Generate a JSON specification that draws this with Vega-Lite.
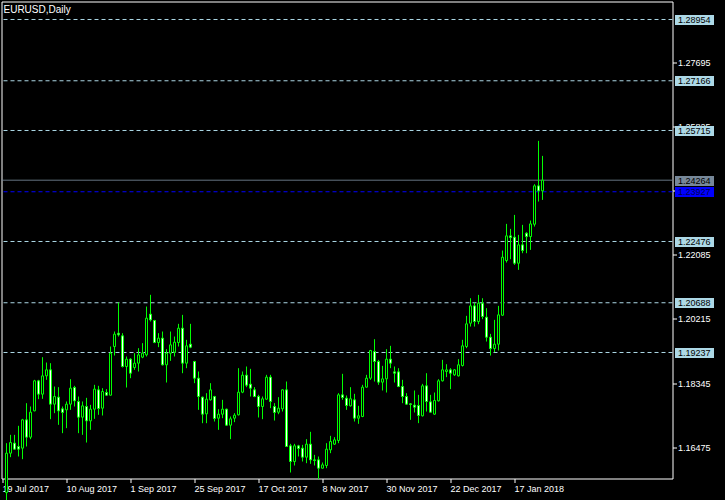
{
  "$schema": "https://vega.github.io/schema/vega-lite/v6.json",
  "width": 671,
  "height": 477,
  "autosize": {"type": "none"},
  "padding": {"left": 1.5, "top": 1.5, "right": 52.5, "bottom": 21.5},
  "background": "#000000",
  "title": {"text": "EURUSD,Daily", "anchor": "start", "frame": "group", "orient": "top", "offset": 0, "color": "#ffffff", "font": "Liberation Sans", "fontSize": 10, "fontWeight": "normal", "baseline": "top", "dx": 2, "dy": 13.5},
  "datasets": {
    "slots": [
      {"date": "2017-07-19"},
      {"date": "2018-01-29"}, {"date": "2018-01-30"}, {"date": "2018-01-31"}, {"date": "2018-02-01"}, {"date": "2018-02-02"},
      {"date": "2018-02-05"}, {"date": "2018-02-06"}, {"date": "2018-02-07"}, {"date": "2018-02-08"}, {"date": "2018-02-09"},
      {"date": "2018-02-12"}, {"date": "2018-02-13"}, {"date": "2018-02-14"}, {"date": "2018-02-15"}, {"date": "2018-02-16"},
      {"date": "2018-02-19"}, {"date": "2018-02-20"}, {"date": "2018-02-21"}, {"date": "2018-02-22"}, {"date": "2018-02-23"},
      {"date": "2018-02-26"}, {"date": "2018-02-27"}, {"date": "2018-02-28"}, {"date": "2018-03-01"}, {"date": "2018-03-02"},
      {"date": "2018-03-05"}, {"date": "2018-03-06"}, {"date": "2018-03-07"}, {"date": "2018-03-08"}, {"date": "2018-03-09"},
      {"date": "2018-03-12"}, {"date": "2018-03-13"}
    ],
    "levels": [
      {"price": 1.28954, "kind": "level"},
      {"price": 1.27166, "kind": "level"},
      {"price": 1.25715, "kind": "level"},
      {"price": 1.24264, "kind": "bid"},
      {"price": 1.23927, "kind": "ask"},
      {"price": 1.22476, "kind": "level"},
      {"price": 1.20688, "kind": "level"},
      {"price": 1.19237, "kind": "level"}
    ],
    "candles": [
      {"date": "2017-07-20", "open": 1.15150, "high": 1.16591, "low": 1.14800, "close": 1.16299},
      {"date": "2017-07-21", "open": 1.16299, "high": 1.16834, "low": 1.16182, "close": 1.16610},
      {"date": "2017-07-24", "open": 1.16591, "high": 1.16834, "low": 1.16396, "close": 1.16416},
      {"date": "2017-07-25", "open": 1.16494, "high": 1.17097, "low": 1.16202, "close": 1.16416},
      {"date": "2017-07-26", "open": 1.16445, "high": 1.17300, "low": 1.16124, "close": 1.17272},
      {"date": "2017-07-27", "open": 1.17272, "high": 1.17758, "low": 1.16494, "close": 1.16766},
      {"date": "2017-07-28", "open": 1.16766, "high": 1.17661, "low": 1.16708, "close": 1.17495},
      {"date": "2017-07-31", "open": 1.17534, "high": 1.18439, "low": 1.17520, "close": 1.18410},
      {"date": "2017-08-01", "open": 1.18410, "high": 1.18439, "low": 1.17875, "close": 1.18021},
      {"date": "2017-08-02", "open": 1.18021, "high": 1.19100, "low": 1.17885, "close": 1.18555},
      {"date": "2017-08-03", "open": 1.18555, "high": 1.18944, "low": 1.18439, "close": 1.18731},
      {"date": "2017-08-04", "open": 1.18731, "high": 1.18925, "low": 1.17291, "close": 1.17729},
      {"date": "2017-08-07", "open": 1.17729, "high": 1.18244, "low": 1.17466, "close": 1.17952},
      {"date": "2017-08-08", "open": 1.17933, "high": 1.18225, "low": 1.17126, "close": 1.17534},
      {"date": "2017-08-09", "open": 1.17593, "high": 1.17661, "low": 1.16883, "close": 1.17486},
      {"date": "2017-08-10", "open": 1.17563, "high": 1.17807, "low": 1.17029, "close": 1.17729},
      {"date": "2017-08-11", "open": 1.17729, "high": 1.18458, "low": 1.17563, "close": 1.18196},
      {"date": "2017-08-14", "open": 1.18215, "high": 1.18264, "low": 1.17661, "close": 1.17826},
      {"date": "2017-08-15", "open": 1.17807, "high": 1.17952, "low": 1.16883, "close": 1.17350},
      {"date": "2017-08-16", "open": 1.17350, "high": 1.17807, "low": 1.16834, "close": 1.17680},
      {"date": "2017-08-17", "open": 1.17661, "high": 1.17914, "low": 1.16610, "close": 1.17242},
      {"date": "2017-08-18", "open": 1.17242, "high": 1.17709, "low": 1.16980, "close": 1.17583},
      {"date": "2017-08-21", "open": 1.17583, "high": 1.18293, "low": 1.17301, "close": 1.18167},
      {"date": "2017-08-22", "open": 1.18147, "high": 1.18264, "low": 1.17418, "close": 1.17602},
      {"date": "2017-08-23", "open": 1.17612, "high": 1.18196, "low": 1.17398, "close": 1.18098},
      {"date": "2017-08-24", "open": 1.18069, "high": 1.18167, "low": 1.17972, "close": 1.17991},
      {"date": "2017-08-25", "open": 1.17991, "high": 1.19411, "low": 1.17982, "close": 1.19217},
      {"date": "2017-08-28", "open": 1.19411, "high": 1.19849, "low": 1.19149, "close": 1.19771},
      {"date": "2017-08-29", "open": 1.19800, "high": 1.20695, "low": 1.19703, "close": 1.19752},
      {"date": "2017-08-30", "open": 1.19723, "high": 1.19800, "low": 1.18800, "close": 1.18828},
      {"date": "2017-08-31", "open": 1.18828, "high": 1.19120, "low": 1.18215, "close": 1.19042},
      {"date": "2017-09-01", "open": 1.19042, "high": 1.19071, "low": 1.18487, "close": 1.18633},
      {"date": "2017-09-04", "open": 1.18799, "high": 1.19217, "low": 1.18731, "close": 1.18925},
      {"date": "2017-09-05", "open": 1.18925, "high": 1.19363, "low": 1.18682, "close": 1.19168},
      {"date": "2017-09-06", "open": 1.19100, "high": 1.19509, "low": 1.19071, "close": 1.19217},
      {"date": "2017-09-07", "open": 1.19168, "high": 1.20578, "low": 1.19120, "close": 1.20238},
      {"date": "2017-09-08", "open": 1.20355, "high": 1.20920, "low": 1.20141, "close": 1.20189},
      {"date": "2017-09-11", "open": 1.20170, "high": 1.20189, "low": 1.19509, "close": 1.19528},
      {"date": "2017-09-12", "open": 1.19528, "high": 1.19800, "low": 1.19392, "close": 1.19655},
      {"date": "2017-09-13", "open": 1.19655, "high": 1.19849, "low": 1.18857, "close": 1.18877},
      {"date": "2017-09-14", "open": 1.18877, "high": 1.19334, "low": 1.18361, "close": 1.19217},
      {"date": "2017-09-15", "open": 1.19217, "high": 1.19849, "low": 1.18993, "close": 1.19460},
      {"date": "2017-09-18", "open": 1.19246, "high": 1.19703, "low": 1.19120, "close": 1.19538},
      {"date": "2017-09-19", "open": 1.19528, "high": 1.20073, "low": 1.19411, "close": 1.19946},
      {"date": "2017-09-20", "open": 1.19946, "high": 1.20335, "low": 1.18633, "close": 1.18925},
      {"date": "2017-09-21", "open": 1.18925, "high": 1.19606, "low": 1.18779, "close": 1.19431},
      {"date": "2017-09-22", "open": 1.19479, "high": 1.20073, "low": 1.19363, "close": 1.19392},
      {"date": "2017-09-25", "open": 1.18974, "high": 1.18993, "low": 1.18342, "close": 1.18487},
      {"date": "2017-09-26", "open": 1.18487, "high": 1.18682, "low": 1.17563, "close": 1.17952},
      {"date": "2017-09-27", "open": 1.17933, "high": 1.17952, "low": 1.17174, "close": 1.17437},
      {"date": "2017-09-28", "open": 1.17447, "high": 1.18050, "low": 1.17174, "close": 1.17875},
      {"date": "2017-09-29", "open": 1.17855, "high": 1.18342, "low": 1.17836, "close": 1.18147},
      {"date": "2017-10-02", "open": 1.17952, "high": 1.17972, "low": 1.17223, "close": 1.17311},
      {"date": "2017-10-03", "open": 1.17320, "high": 1.17583, "low": 1.16980, "close": 1.17437},
      {"date": "2017-10-04", "open": 1.17437, "high": 1.17855, "low": 1.17320, "close": 1.17583},
      {"date": "2017-10-05", "open": 1.17583, "high": 1.17600, "low": 1.17097, "close": 1.17116},
      {"date": "2017-10-06", "open": 1.17116, "high": 1.17369, "low": 1.16708, "close": 1.17301},
      {"date": "2017-10-09", "open": 1.17320, "high": 1.17466, "low": 1.17204, "close": 1.17408},
      {"date": "2017-10-10", "open": 1.17418, "high": 1.18779, "low": 1.17400, "close": 1.18079},
      {"date": "2017-10-11", "open": 1.18079, "high": 1.18682, "low": 1.18050, "close": 1.18575},
      {"date": "2017-10-12", "open": 1.18575, "high": 1.18828, "low": 1.18225, "close": 1.18283},
      {"date": "2017-10-13", "open": 1.18312, "high": 1.18760, "low": 1.17952, "close": 1.18196},
      {"date": "2017-10-16", "open": 1.18147, "high": 1.18225, "low": 1.17933, "close": 1.17952},
      {"date": "2017-10-17", "open": 1.17952, "high": 1.18001, "low": 1.17340, "close": 1.17661},
      {"date": "2017-10-18", "open": 1.17661, "high": 1.17952, "low": 1.17291, "close": 1.17885},
      {"date": "2017-10-19", "open": 1.17875, "high": 1.18585, "low": 1.17855, "close": 1.18517},
      {"date": "2017-10-20", "open": 1.18517, "high": 1.18585, "low": 1.17612, "close": 1.17807},
      {"date": "2017-10-23", "open": 1.17661, "high": 1.17758, "low": 1.17252, "close": 1.17486},
      {"date": "2017-10-24", "open": 1.17495, "high": 1.17933, "low": 1.17437, "close": 1.17612},
      {"date": "2017-10-25", "open": 1.17593, "high": 1.18167, "low": 1.17515, "close": 1.18147},
      {"date": "2017-10-26", "open": 1.18147, "high": 1.18390, "low": 1.16480, "close": 1.16494},
      {"date": "2017-10-27", "open": 1.16513, "high": 1.16571, "low": 1.15735, "close": 1.16056},
      {"date": "2017-10-30", "open": 1.16056, "high": 1.16571, "low": 1.15939, "close": 1.16513},
      {"date": "2017-10-31", "open": 1.16513, "high": 1.16542, "low": 1.16202, "close": 1.16435},
      {"date": "2017-11-01", "open": 1.16445, "high": 1.16542, "low": 1.16056, "close": 1.16182},
      {"date": "2017-11-02", "open": 1.16182, "high": 1.16708, "low": 1.16007, "close": 1.16562},
      {"date": "2017-11-03", "open": 1.16562, "high": 1.16922, "low": 1.15988, "close": 1.16104},
      {"date": "2017-11-06", "open": 1.16104, "high": 1.16250, "low": 1.15939, "close": 1.16085},
      {"date": "2017-11-07", "open": 1.16104, "high": 1.16202, "low": 1.15540, "close": 1.15861},
      {"date": "2017-11-08", "open": 1.15861, "high": 1.16027, "low": 1.15850, "close": 1.15958},
      {"date": "2017-11-09", "open": 1.15939, "high": 1.16591, "low": 1.15861, "close": 1.16416},
      {"date": "2017-11-10", "open": 1.16396, "high": 1.16805, "low": 1.16299, "close": 1.16640},
      {"date": "2017-11-13", "open": 1.16562, "high": 1.16766, "low": 1.16542, "close": 1.16688},
      {"date": "2017-11-14", "open": 1.16669, "high": 1.18050, "low": 1.16591, "close": 1.18001},
      {"date": "2017-11-15", "open": 1.18001, "high": 1.18614, "low": 1.17855, "close": 1.17923},
      {"date": "2017-11-16", "open": 1.17904, "high": 1.17982, "low": 1.17563, "close": 1.17690},
      {"date": "2017-11-17", "open": 1.17680, "high": 1.18225, "low": 1.17661, "close": 1.17885},
      {"date": "2017-11-20", "open": 1.17855, "high": 1.18031, "low": 1.17223, "close": 1.17320},
      {"date": "2017-11-21", "open": 1.17320, "high": 1.17680, "low": 1.17155, "close": 1.17389},
      {"date": "2017-11-22", "open": 1.17369, "high": 1.18293, "low": 1.17350, "close": 1.18225},
      {"date": "2017-11-23", "open": 1.18225, "high": 1.18585, "low": 1.18215, "close": 1.18487},
      {"date": "2017-11-24", "open": 1.18487, "high": 1.19314, "low": 1.18439, "close": 1.19295},
      {"date": "2017-11-27", "open": 1.19265, "high": 1.19625, "low": 1.18390, "close": 1.18974},
      {"date": "2017-11-28", "open": 1.18974, "high": 1.19022, "low": 1.18293, "close": 1.18371},
      {"date": "2017-11-29", "open": 1.18371, "high": 1.18847, "low": 1.18128, "close": 1.18468},
      {"date": "2017-11-30", "open": 1.18468, "high": 1.19334, "low": 1.18069, "close": 1.19042},
      {"date": "2017-12-01", "open": 1.19042, "high": 1.19431, "low": 1.18779, "close": 1.18925},
      {"date": "2017-12-04", "open": 1.18672, "high": 1.18828, "low": 1.18361, "close": 1.18633},
      {"date": "2017-12-05", "open": 1.18672, "high": 1.18779, "low": 1.18225, "close": 1.18244},
      {"date": "2017-12-06", "open": 1.18244, "high": 1.18439, "low": 1.17758, "close": 1.17952},
      {"date": "2017-12-07", "open": 1.17952, "high": 1.18050, "low": 1.17709, "close": 1.17729},
      {"date": "2017-12-08", "open": 1.17739, "high": 1.17758, "low": 1.17272, "close": 1.17719},
      {"date": "2017-12-11", "open": 1.17700, "high": 1.18128, "low": 1.17486, "close": 1.17641},
      {"date": "2017-12-12", "open": 1.17690, "high": 1.18001, "low": 1.17175, "close": 1.17398},
      {"date": "2017-12-13", "open": 1.17389, "high": 1.18322, "low": 1.17370, "close": 1.18264},
      {"date": "2017-12-14", "open": 1.18264, "high": 1.18633, "low": 1.17515, "close": 1.17807},
      {"date": "2017-12-15", "open": 1.17797, "high": 1.18001, "low": 1.17486, "close": 1.17495},
      {"date": "2017-12-18", "open": 1.17437, "high": 1.18069, "low": 1.17418, "close": 1.17836},
      {"date": "2017-12-19", "open": 1.17826, "high": 1.18458, "low": 1.17807, "close": 1.18410},
      {"date": "2017-12-20", "open": 1.18410, "high": 1.19022, "low": 1.18390, "close": 1.18731},
      {"date": "2017-12-21", "open": 1.18682, "high": 1.18895, "low": 1.18517, "close": 1.18731},
      {"date": "2017-12-22", "open": 1.18731, "high": 1.18779, "low": 1.18167, "close": 1.18633},
      {"date": "2017-12-26", "open": 1.18585, "high": 1.18750, "low": 1.18555, "close": 1.18731},
      {"date": "2017-12-27", "open": 1.18555, "high": 1.19042, "low": 1.18536, "close": 1.18877},
      {"date": "2017-12-28", "open": 1.18857, "high": 1.19606, "low": 1.18828, "close": 1.19431},
      {"date": "2017-12-29", "open": 1.19411, "high": 1.20306, "low": 1.19363, "close": 1.20073},
      {"date": "2018-01-02", "open": 1.20092, "high": 1.20821, "low": 1.19994, "close": 1.20597},
      {"date": "2018-01-03", "open": 1.20597, "high": 1.20694, "low": 1.19994, "close": 1.20140},
      {"date": "2018-01-04", "open": 1.20140, "high": 1.20918, "low": 1.20063, "close": 1.20675},
      {"date": "2018-01-05", "open": 1.20675, "high": 1.20821, "low": 1.20209, "close": 1.20286},
      {"date": "2018-01-08", "open": 1.20267, "high": 1.20529, "low": 1.19557, "close": 1.19683},
      {"date": "2018-01-09", "open": 1.19683, "high": 1.19780, "low": 1.19148, "close": 1.19352},
      {"date": "2018-01-10", "open": 1.19352, "high": 1.20189, "low": 1.19246, "close": 1.19479},
      {"date": "2018-01-11", "open": 1.19479, "high": 1.20597, "low": 1.19294, "close": 1.20335},
      {"date": "2018-01-12", "open": 1.20325, "high": 1.22212, "low": 1.20306, "close": 1.22017},
      {"date": "2018-01-15", "open": 1.21920, "high": 1.22990, "low": 1.21862, "close": 1.22640},
      {"date": "2018-01-16", "open": 1.22640, "high": 1.22844, "low": 1.21959, "close": 1.22591},
      {"date": "2018-01-17", "open": 1.22601, "high": 1.23252, "low": 1.21794, "close": 1.21842},
      {"date": "2018-01-18", "open": 1.21842, "high": 1.22669, "low": 1.21648, "close": 1.22377},
      {"date": "2018-01-19", "open": 1.22377, "high": 1.22961, "low": 1.22134, "close": 1.22212},
      {"date": "2018-01-22", "open": 1.22717, "high": 1.22747, "low": 1.22134, "close": 1.22620},
      {"date": "2018-01-23", "open": 1.22620, "high": 1.23087, "low": 1.22231, "close": 1.22990},
      {"date": "2018-01-24", "open": 1.22980, "high": 1.24147, "low": 1.22912, "close": 1.24099},
      {"date": "2018-01-25", "open": 1.24099, "high": 1.25412, "low": 1.23642, "close": 1.23953},
      {"date": "2018-01-26", "open": 1.23953, "high": 1.24974, "low": 1.23690, "close": 1.24264}
    ]
  },
  "layer": [
    {
      "data": {"name": "levels"},
      "mark": {"type": "rule", "strokeWidth": 1},
      "encoding": {
        "y": {
          "field": "price", "type": "quantitative",
          "scale": {"domain": [1.1556, 1.29479], "nice": false, "zero": false},
          "axis": {
            "orient": "right", "title": null, "domain": false, "grid": false,
            "values": [1.28954, 1.27166, 1.25715, 1.24264, 1.23927, 1.22476, 1.20688, 1.19237],
            "format": ".5f", "offset": 2, "tickSize": 39, "tickWidth": 10,
            "tickColor": {"condition": [{"test": "abs(datum.value - 1.24264) < 0.00001", "value": "#778899"}, {"test": "abs(datum.value - 1.23927) < 0.00001", "value": "#0000ff"}], "value": "#add8e6"},
            "labelColor": {"condition": {"test": "abs(datum.value - 1.23927) < 0.00001", "value": "#000050"}, "value": "#000000"},
            "labelFont": "Liberation Sans", "labelFontSize": 9, "labelPadding": -36,
            "labelAlign": "left", "labelBaseline": "middle", "labelOverlap": false,
            "labelFlush": false, "labelBound": false, "zindex": 1
          }
        },
        "color": {"field": "kind", "type": "nominal", "legend": null,
          "scale": {"domain": ["level", "bid", "ask"], "range": ["#add8e6", "#778899", "#0000ff"]}},
        "strokeDash": {"field": "kind", "type": "nominal", "legend": null,
          "scale": {"domain": ["level", "bid", "ask"], "range": [[4, 3], [1, 0], [4, 3]]}}
      }
    },
    {
      "encoding": {
        "x": {
          "field": "date", "type": "ordinal",
          "scale": {"type": "band", "paddingInner": 0.5, "paddingOuter": 0.125, "align": 0, "round": false},
          "axis": {
            "title": null, "domain": false, "grid": false,
            "values": ["2017-07-19", "2017-08-10", "2017-09-01", "2017-09-25", "2017-10-17", "2017-11-08", "2017-11-30", "2017-12-22", "2018-01-17"],
            "labelExpr": "utcFormat(toDate(datum.value), '%-d %b %Y')",
            "tickColor": "#ffffff", "tickSize": 4, "tickWidth": 1,
            "labelColor": "#ffffff", "labelFont": "Liberation Sans", "labelFontSize": 9,
            "labelAlign": "left", "labelBaseline": "top", "labelPadding": 2, "labelAngle": 0,
            "labelOverlap": false, "labelFlush": false, "labelBound": false
          }
        }
      },
      "layer": [
        {
          "data": {"name": "slots"},
          "mark": {"type": "tick", "opacity": 0}
        },
        {
          "data": {"name": "candles"},
          "mark": {"type": "rule", "color": "#00ff00", "strokeWidth": 1},
          "encoding": {
            "y": {
              "field": "low", "type": "quantitative",
              "scale": {"domain": [1.1556, 1.29479], "nice": false, "zero": false},
              "axis": {
                "orient": "right", "title": null, "domain": false, "grid": false,
                "values": [1.16475, 1.1741, 1.18345, 1.1928, 1.20215, 1.2115, 1.22085, 1.2302, 1.23955, 1.2489, 1.25825, 1.2676, 1.27695, 1.2863],
                "format": ".5f", "tickColor": "#ffffff", "tickSize": 4, "tickWidth": 1,
                "labelColor": "#ffffff", "labelFont": "Liberation Sans", "labelFontSize": 9,
                "labelPadding": 1, "labelAlign": "left", "labelBaseline": "middle",
                "labelOverlap": false, "labelFlush": false, "labelBound": false, "zindex": 0
              }
            },
            "y2": {"field": "high"}
          }
        },
        {
          "data": {"name": "candles"},
          "mark": {"type": "bar", "stroke": "#00ff00", "strokeWidth": 1},
          "encoding": {
            "y": {"field": "open", "type": "quantitative"},
            "y2": {"field": "close"},
            "fill": {"condition": {"test": "datum.open > datum.close", "value": "#ffffff"}, "value": "#000000"}
          }
        }
      ]
    }
  ],
  "resolve": {"axis": {"y": "independent"}},
  "config": {
    "view": {"stroke": "#ffffff", "strokeWidth": 1},
    "axis": {"labelFont": "Liberation Sans"}
  }
}
